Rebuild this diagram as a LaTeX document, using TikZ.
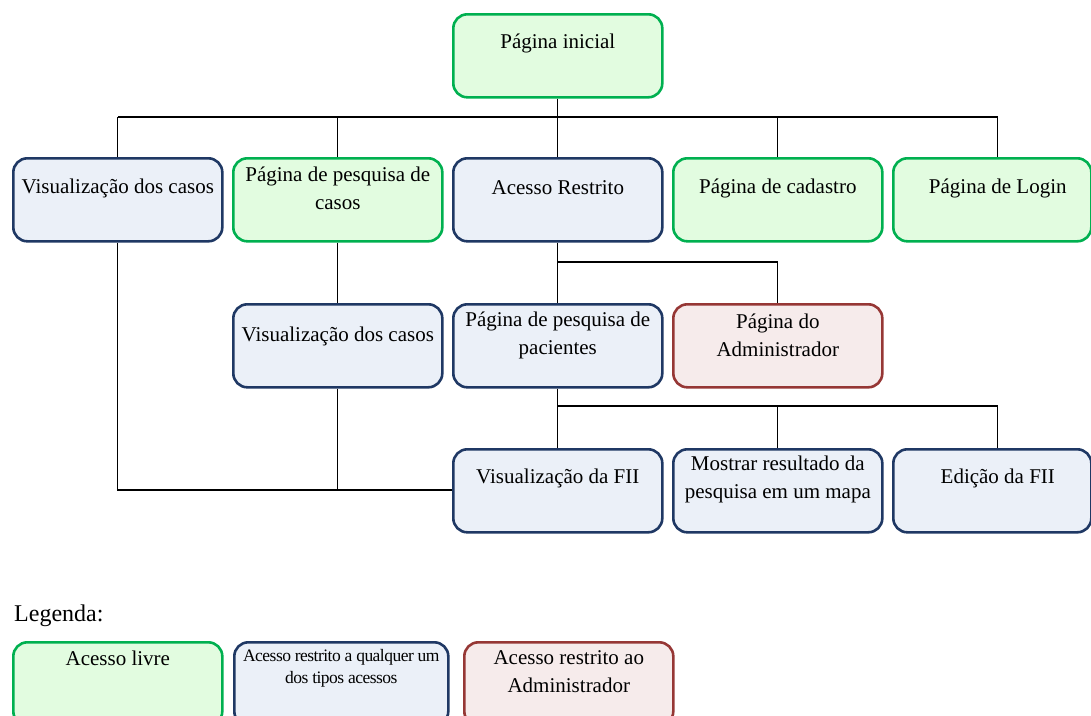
\documentclass[tikz,border=0pt]{standalone}
\usepackage{fontspec}
\setmainfont{Liberation Serif}
\definecolor{livreline}{RGB}{0,176,80}
\definecolor{livrefill}{RGB}{226,252,224}
\definecolor{restline}{RGB}{31,56,100}
\definecolor{restfill}{RGB}{235,240,248}
\definecolor{admline}{RGB}{150,55,53}
\definecolor{admfill}{RGB}{246,235,235}
\tikzset{
  pagebox/.style={draw, line width=2.6pt, rounded corners=14pt, anchor=north west,
    minimum width=209pt, minimum height=83pt, inner sep=0pt},
  livre/.style={pagebox, draw=livreline, fill=livrefill},
  restrito/.style={pagebox, draw=restline, fill=restfill},
  admin/.style={pagebox, draw=admline, fill=admfill},
  txt/.style={align=center, font=\fontsize{21}{28}\selectfont, inner sep=0pt},
  link/.style={draw=black, line width=1.2pt},
}
\begin{document}
\begin{tikzpicture}[x=1pt,y=-1pt]
\useasboundingbox (0,0) rectangle (1091,715);

% junction points of the tree
\coordinate (h1) at (557,117);
\coordinate (h2) at (557,262);
\coordinate (h3) at (557,406);
\coordinate (h4) at (117,490);

% boxes
\node[livre] (ini) at (452,13) {};
\node[restrito] (vis1) at (12,157) {};
\node[livre] (pcas) at (232,157) {};
\node[restrito] (acr) at (452,157) {};
\node[livre] (cad) at (672,157) {};
\node[livre, minimum width=198pt] (log) at (892,157) {};
\node[restrito] (vis2) at (232,303) {};
\node[restrito] (ppac) at (452,303) {};
\node[admin] (adm) at (672,303) {};
\node[restrito] (fii) at (452,448) {};
\node[restrito] (mapa) at (672,448) {};
\node[restrito, minimum width=198pt] (ed) at (892,448) {};

% attachment points on the two narrower right-hand boxes
\coordinate (logtop) at ([xshift=5.5pt]log.north);
\coordinate (edtop) at ([xshift=5.5pt]ed.north);

% connectors
\draw[link] (ini.south) -- (ini.south |- h1);
\draw[link] (vis1.north |- h1) -- (logtop |- h1);
\foreach \b in {vis1,pcas,acr,cad,logtop} \draw[link] (\b.north |- h1) -- (\b.north);
\draw[link] (acr.south) -- (ppac.north);
\draw[link] (acr.south |- h2) -| (adm.north);
\draw[link] (pcas.south) -- (vis2.north);
\draw[link] (ppac.south) -- (fii.north);
\draw[link] (ppac.south |- h3) -| (mapa.north);
\draw[link] (mapa.north |- h3) -| (edtop);
\draw[link] (vis1.south) -- (vis1.south |- h4) -- (fii.west |- h4);
\draw[link] (vis2.south) -- (vis2.south |- h4);

% labels
\node[txt] at ([yshift=-30]ini.north) {Página inicial};
\node[txt] at ([yshift=-31]vis1.north) {Visualização dos casos};
\node[txt] at ([yshift=-31]pcas.north) {Página de pesquisa de\\casos};
\node[txt] at ([yshift=-31]acr.north) {Acesso Restrito};
\node[txt] at ([yshift=-31]cad.north) {Página de cadastro};
\node[txt] at ([yshift=-31]logtop) {Página de Login};
\node[txt] at ([yshift=-33]vis2.north) {Visualização dos casos};
\node[txt] at ([yshift=-32]ppac.north) {Página de pesquisa de\\pacientes};
\node[txt] at ([yshift=-32]adm.north) {Página do\\Administrador};
\node[txt] at ([yshift=-30]fii.north) {Visualização da FII};
\node[txt] at ([yshift=-31]mapa.north) {Mostrar resultado da\\pesquisa em um mapa};
\node[txt] at ([yshift=-30]edtop) {Edição da FII};

% legend
\node[txt, anchor=west, font=\fontsize{24}{28}\selectfont] (leg) at (14,616) {Legenda:};
\node[livre] (l1) at (12,641) {};
\node[restrito, minimum width=214pt] (l2) at (233,641) {};
\node[admin] (l3) at (463,641) {};
\node[txt] at ([yshift=-17]l1.north) {Acesso livre};
\node[txt, font=\fontsize{17.5}{22}\selectfont\addfontfeatures{LetterSpace=-3}] at ([yshift=-27]l2.north) {Acesso restrito a qualquer um\\dos tipos acessos};
\node[txt] at ([yshift=-31]l3.north) {Acesso restrito ao\\Administrador};
\end{tikzpicture}
\end{document}
